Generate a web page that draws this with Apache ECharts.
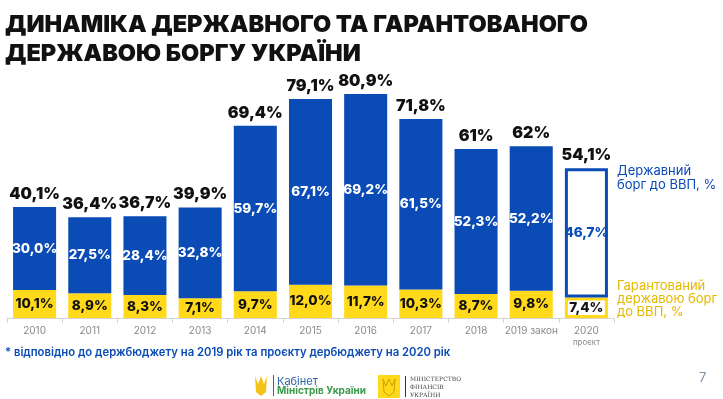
<!DOCTYPE html>
<html>
<head>
<meta charset="utf-8">
<script src="https://cdn.jsdelivr.net/npm/echarts@6/dist/echarts.min.js"></script>
<style>
  html, body { margin: 0; padding: 0; background: #fff; }
  #container { width: 723px; height: 399px; }
</style>
</head>
<body>
<div id="container"></div>
<script>
var dom = document.getElementById('container');
var myChart = echarts.init(dom, null, { renderer: 'canvas' });

// data
var years = ['2010', '2011', '2012', '2013', '2014', '2015', '2016', '2017', '2018', '2019 закон', '2020'];
var guaranteedDebt = [10.1, 8.9, 8.3, 7.1, 9.7, 12.0, 11.7, 10.3, 8.7, 9.8, 7.4];
var stateDebt = [30.0, 27.5, 28.4, 32.8, 59.7, 67.1, 69.2, 61.5, 52.3, 52.2, 46.7];
var totalDebt = [40.1, 36.4, 36.7, 39.9, 69.4, 79.1, 80.9, 71.8, 61, 62, 54.1];

var BLUE = '#0a4bb5';
var YELLOW = '#ffd91a';
var FONT = 'Inter, "Noto Sans", sans-serif';

function pct(v) {
  return (v % 1 === 0 && v > 60 ? String(v) : v.toFixed(1).replace('.', ',')) + '%';
}
var last = years.length - 1;

var stateData = stateDebt.map(function (v, i) {
  if (i !== last) return v;
  return {
    value: v,
    itemStyle: { color: '#fff', borderColor: BLUE, borderWidth: 3 },
    label: { color: BLUE }
  };
});
var guarData = guaranteedDebt.map(function (v, i) {
  if (i !== last) return v;
  return {
    value: v,
    itemStyle: { color: '#fff', borderColor: YELLOW, borderWidth: 3 }
  };
});

var option = {
  animation: false,
  grid: { left: 7, right: 109, top: 41, bottom: 81 },
  xAxis: {
    type: 'category',
    data: years,
    axisLine: { lineStyle: { color: '#d4d4d4' } },
    axisTick: { show: true, length: 5, lineStyle: { color: '#d4d4d4' } },
    axisLabel: {
      interval: 0,
      color: '#8a8a8a',
      fontSize: 10,
      fontFamily: FONT,
      margin: 8,
      formatter: function (v) {
        return v === '2020' ? v + '\n{s|проєкт}' : v;
      },
      rich: { s: { fontSize: 8, color: '#8a8a8a', padding: [3, 0, 0, 0] } }
    }
  },
  yAxis: { type: 'value', min: 0, max: 100, show: false },
  series: [
    {
      type: 'bar',
      stack: 'debt',
      barWidth: '78%',
      data: guarData,
      itemStyle: { color: YELLOW },
      label: {
        show: true,
        position: 'inside',
        color: '#111',
        fontSize: 13.5,
        fontWeight: 800,
        fontFamily: FONT,
        formatter: function (p) { return pct(p.value); }
      }
    },
    {
      type: 'bar',
      stack: 'debt',
      barWidth: '78%',
      data: stateData,
      itemStyle: { color: BLUE },
      label: {
        show: true,
        position: 'inside',
        color: '#fff',
        fontSize: 13.5,
        fontWeight: 800,
        fontFamily: FONT,
        formatter: function (p) { return pct(p.value); }
      }
    },
    {
      type: 'bar',
      barWidth: '78%',
      barGap: '-100%',
      data: totalDebt,
      z: 1,
      silent: true,
      itemStyle: { color: 'rgba(0,0,0,0)' },
      label: {
        show: true,
        position: 'top',
        distance: 5,
        color: '#111',
        fontSize: 16,
        fontWeight: 900,
        fontFamily: FONT,
        formatter: function (p) { return pct(p.value); }
      }
    }
  ],
  graphic: [
    {
      type: 'text', left: 5, top: 10,
      style: {
        text: 'ДИНАМІКА ДЕРЖАВНОГО ТА ГАРАНТОВАНОГО\nДЕРЖАВОЮ БОРГУ УКРАЇНИ',
        font: '900 23.5px ' + FONT, fill: '#111', lineHeight: 29
      }
    },
    {
      type: 'text', left: 617, top: 164,
      style: { text: 'Державний\nборг до ВВП, %', font: '13px ' + FONT, fill: BLUE, lineHeight: 14 }
    },
    {
      type: 'text', left: 617, top: 280,
      style: { text: 'Гарантований\nдержавою борг\nдо ВВП, %', font: '13px ' + FONT, fill: '#e5b800', lineHeight: 13 }
    },
    {
      type: 'text', left: 5, top: 347,
      style: {
        text: '* відповідно до держбюджету на 2019 рік та проєкту дербюджету на 2020 рік',
        font: '600 11.3px ' + FONT, fill: BLUE
      }
    },
    // footer logos
    {
      type: 'polygon',
      shape: { points: [[255, 376], [258, 384], [261, 376], [264, 384], [267, 376], [266, 392], [261, 396], [256, 392]] },
      style: { fill: '#f3c318' }
    },
    { type: 'rect', shape: { x: 273, y: 375, width: 1, height: 21 }, style: { fill: '#2e64a8' } },
    {
      type: 'text', left: 277, top: 376,
      style: { text: 'Кабінет', font: '11px ' + FONT, fill: '#2e64a8' }
    },
    {
      type: 'text', left: 277, top: 386,
      style: { text: 'Міністрів України', font: 'bold 10px ' + FONT, fill: '#3a9a4a' }
    },
    { type: 'rect', shape: { x: 378, y: 375, width: 22, height: 23 }, style: { fill: '#ffd91a' } },
    {
      type: 'polygon',
      shape: { points: [[383, 379], [386, 386], [389, 379], [392, 386], [395, 379], [394, 392], [389, 396], [384, 392]] },
      style: { fill: 'none', stroke: '#c9a200', lineWidth: 1 }
    },
    { type: 'rect', shape: { x: 405, y: 376, width: 1, height: 21 }, style: { fill: '#333' } },
    {
      type: 'text', left: 410, top: 375,
      style: { text: 'МІНІСТЕРСТВО\nФІНАНСІВ\nУКРАЇНИ', font: '6px "DejaVu Serif", serif', fill: '#444', lineHeight: 8 }
    },
    {
      type: 'text', left: 699, top: 372,
      style: { text: '7', font: '13px ' + FONT, fill: '#7a8fa8' }
    }
  ]
};

myChart.setOption(option);
window.addEventListener('resize', myChart.resize);
</script>
</body>
</html>
